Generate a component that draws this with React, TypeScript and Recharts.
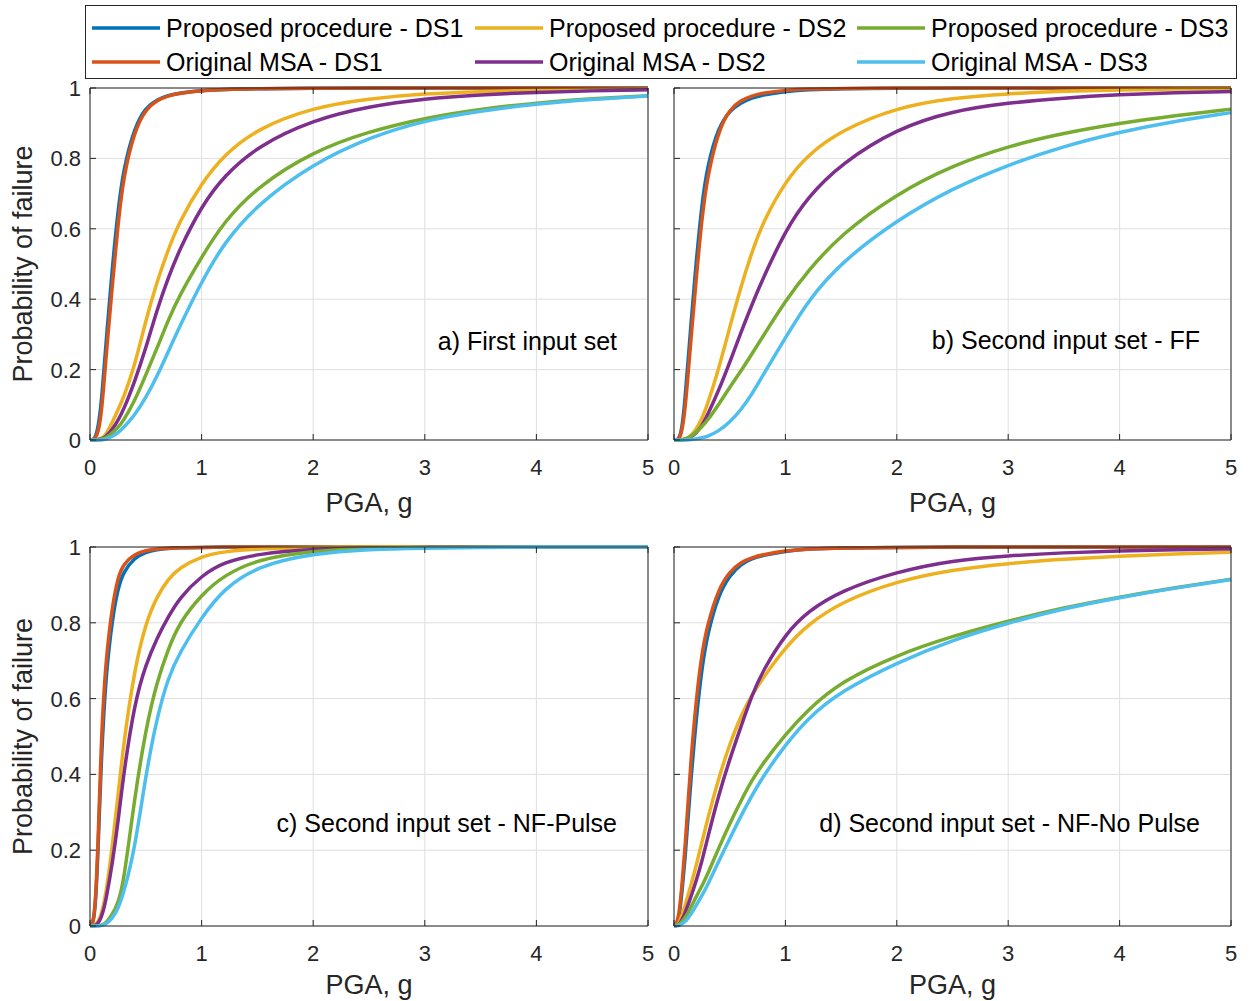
import React from 'react';
import { LineChart, Line, XAxis, YAxis, CartesianGrid } from 'recharts';

const FONT = "'Liberation Sans', Arial, Helvetica, sans-serif";
const AXIS = '#262626';
const GRID = '#dedede';

// PGA sample points (g)
const PGA = [0, 0.025, 0.05, 0.075, 0.1, 0.125, 0.15, 0.2, 0.25, 0.3, 0.4, 0.5, 0.6, 0.7, 0.8, 1.0, 1.2, 1.5, 2.0, 2.5, 3.0, 3.5, 4.0, 4.5, 5.0];

// a) First input set
const A_P1 = [0, 0, 0.008, 0.04, 0.1, 0.2, 0.3, 0.49, 0.65, 0.77, 0.89, 0.945, 0.967, 0.979, 0.986, 0.993, 0.996, 0.998, 0.999, 1, 1, 1, 1, 1, 1];
const A_O1 = [0, 0, 0.005, 0.025, 0.07, 0.16, 0.26, 0.44, 0.61, 0.75, 0.88, 0.94, 0.965, 0.978, 0.985, 0.993, 0.996, 0.998, 0.999, 1, 1, 1, 1, 1, 1];
const A_P2 = [0, 0, 0, 0.002, 0.005, 0.01, 0.02, 0.05, 0.085, 0.12, 0.21, 0.34, 0.45, 0.54, 0.62, 0.73, 0.81, 0.885, 0.945, 0.97, 0.984, 0.99, 0.994, 0.996, 0.998];
const A_O2 = [0, 0, 0, 0.001, 0.003, 0.006, 0.012, 0.03, 0.055, 0.085, 0.165, 0.26, 0.37, 0.46, 0.54, 0.665, 0.75, 0.835, 0.91, 0.948, 0.97, 0.981, 0.988, 0.992, 0.995];
const A_P3 = [0, 0, 0, 0, 0.002, 0.004, 0.008, 0.02, 0.035, 0.055, 0.11, 0.185, 0.26, 0.34, 0.41, 0.52, 0.62, 0.72, 0.82, 0.877, 0.915, 0.94, 0.958, 0.97, 0.978];
const A_O3 = [0, 0, 0, 0, 0, 0.001, 0.003, 0.01, 0.02, 0.035, 0.07, 0.12, 0.18, 0.25, 0.32, 0.45, 0.56, 0.67, 0.785, 0.86, 0.908, 0.935, 0.955, 0.968, 0.977];

// b) Second input set - FF
const B_P1 = [0, 0, 0.006, 0.04, 0.12, 0.22, 0.32, 0.51, 0.67, 0.78, 0.89, 0.935, 0.958, 0.972, 0.981, 0.99, 0.995, 0.998, 0.999, 1, 1, 1, 1, 1, 1];
const B_O1 = [0, 0, 0.005, 0.03, 0.09, 0.18, 0.28, 0.46, 0.63, 0.75, 0.88, 0.94, 0.965, 0.978, 0.986, 0.994, 0.997, 0.999, 1, 1, 1, 1, 1, 1, 1];
const B_P2 = [0, 0, 0, 0.001, 0.003, 0.006, 0.012, 0.03, 0.06, 0.1, 0.2, 0.32, 0.435, 0.535, 0.62, 0.735, 0.81, 0.88, 0.945, 0.972, 0.984, 0.991, 0.995, 0.997, 0.998];
const B_O2 = [0, 0, 0, 0, 0.002, 0.004, 0.008, 0.02, 0.04, 0.07, 0.14, 0.22, 0.305, 0.385, 0.46, 0.595, 0.69, 0.785, 0.885, 0.935, 0.958, 0.972, 0.981, 0.987, 0.99];
const B_P3 = [0, 0, 0, 0.001, 0.003, 0.006, 0.01, 0.022, 0.038, 0.055, 0.1, 0.15, 0.195, 0.245, 0.295, 0.395, 0.48, 0.585, 0.7, 0.78, 0.835, 0.872, 0.9, 0.922, 0.94];
const B_O3 = [0, 0, 0, 0, 0, 0, 0.001, 0.003, 0.006, 0.01, 0.025, 0.05, 0.085, 0.13, 0.185, 0.29, 0.395, 0.505, 0.625, 0.715, 0.782, 0.835, 0.875, 0.906, 0.93];

// c) Second input set - NF-Pulse
const C_P1 = [0, 0.003, 0.05, 0.22, 0.43, 0.57, 0.68, 0.81, 0.89, 0.935, 0.972, 0.987, 0.993, 0.996, 0.998, 0.999, 1, 1, 1, 1, 1, 1, 1, 1, 1];
const C_O1 = [0, 0.003, 0.06, 0.24, 0.48, 0.62, 0.72, 0.845, 0.92, 0.955, 0.982, 0.991, 0.995, 0.997, 0.998, 0.999, 1, 1, 1, 1, 1, 1, 1, 1, 1];
const C_P2 = [0, 0, 0.003, 0.012, 0.03, 0.06, 0.1, 0.21, 0.34, 0.48, 0.68, 0.8, 0.87, 0.915, 0.945, 0.976, 0.988, 0.995, 0.999, 1, 1, 1, 1, 1, 1];
const C_O2 = [0, 0, 0.002, 0.008, 0.022, 0.045, 0.08, 0.165, 0.27, 0.4, 0.59, 0.69, 0.76, 0.815, 0.865, 0.925, 0.96, 0.982, 0.995, 0.998, 0.999, 1, 1, 1, 1];
const C_P3 = [0, 0, 0, 0.001, 0.002, 0.005, 0.01, 0.03, 0.06, 0.11, 0.34, 0.52, 0.645, 0.73, 0.8, 0.875, 0.925, 0.968, 0.99, 0.997, 0.999, 1, 1, 1, 1];
const C_O3 = [0, 0, 0, 0, 0.001, 0.003, 0.007, 0.02, 0.045, 0.085, 0.2, 0.4, 0.55, 0.655, 0.72, 0.815, 0.89, 0.95, 0.983, 0.994, 0.997, 0.999, 1, 1, 1];

// d) Second input set - NF-No Pulse
const D_P1 = [0, 0.003, 0.03, 0.1, 0.18, 0.28, 0.38, 0.55, 0.68, 0.77, 0.875, 0.925, 0.955, 0.97, 0.978, 0.989, 0.995, 0.998, 0.999, 1, 1, 1, 1, 1, 1];
const D_O1 = [0, 0.005, 0.04, 0.12, 0.21, 0.32, 0.43, 0.6, 0.72, 0.795, 0.89, 0.935, 0.96, 0.972, 0.98, 0.99, 0.995, 0.998, 0.999, 1, 1, 1, 1, 1, 1];
const D_P2 = [0, 0.002, 0.01, 0.03, 0.055, 0.08, 0.105, 0.16, 0.22, 0.28, 0.39, 0.48, 0.555, 0.61, 0.655, 0.735, 0.795, 0.855, 0.91, 0.94, 0.957, 0.968, 0.976, 0.982, 0.986];
const D_O2 = [0, 0.001, 0.006, 0.018, 0.035, 0.055, 0.075, 0.12, 0.17, 0.23, 0.345, 0.44, 0.525, 0.61, 0.675, 0.77, 0.83, 0.885, 0.935, 0.965, 0.977, 0.985, 0.99, 0.993, 0.995];
const D_P3 = [0, 0.001, 0.005, 0.012, 0.022, 0.034, 0.048, 0.078, 0.105, 0.135, 0.205, 0.27, 0.33, 0.385, 0.43, 0.505, 0.57, 0.645, 0.715, 0.765, 0.805, 0.84, 0.868, 0.893, 0.915];
const D_O3 = [0, 0, 0.002, 0.006, 0.012, 0.02, 0.03, 0.055, 0.08, 0.107, 0.17, 0.23, 0.29, 0.345, 0.395, 0.478, 0.548, 0.62, 0.695, 0.755, 0.8, 0.838, 0.867, 0.892, 0.914];

const SERIES_NAMES = [
  'Proposed procedure - DS1',
  'Original MSA - DS1',
  'Proposed procedure - DS2',
  'Original MSA - DS2',
  'Proposed procedure - DS3',
  'Original MSA - DS3',
];
const SERIES_COLORS = ['#0072BD', '#D95319', '#EDB120', '#7E2F8E', '#77AC30', '#4DBEEE'];

const XTICKS = [0, 1, 2, 3, 4, 5];
const YTICKS = [0, 0.2, 0.4, 0.6, 0.8, 1];

const PANEL_LABELS = [
  'a) First input set',
  'b) Second input set - FF',
  'c) Second input set - NF-Pulse',
  'd) Second input set - NF-No Pulse',
];
const X_TITLE = 'PGA, g';
const Y_TITLE = 'Probability of failure';

// layout (plot rectangles)
const PANELS = [
  { left: 90, top: 88, w: 558, h: 352, series: [A_P1, A_O1, A_P2, A_O2, A_P3, A_O3], yTitle: true, labelY: 341, xTitleOff: 72 },
  { left: 674, top: 88, w: 557, h: 352, series: [B_P1, B_O1, B_P2, B_O2, B_P3, B_O3], yTitle: false, labelY: 340, xTitleOff: 72 },
  { left: 90, top: 547, w: 558, h: 379, series: [C_P1, C_O1, C_P2, C_O2, C_P3, C_O3], yTitle: true, labelY: 823, xTitleOff: 68 },
  { left: 674, top: 547, w: 557, h: 379, series: [D_P1, D_O1, D_P2, D_O2, D_P3, D_O3], yTitle: false, labelY: 823, xTitleOff: 68 },
];

const LEFT_W = 90;
const RIGHT_W = 20;
const TOP_H = 20;
const BOTTOM_H = 45;
const TICK_LEN = 6;

const fmt = (v: number) => String(Math.round(v * 10) / 10);

const BottomTick = (props: any) => {
  const { x, y, payload } = props;
  return (
    <g>
      <line x1={x} x2={x} y1={y} y2={y - TICK_LEN} stroke={AXIS} strokeWidth={1} />
      <text x={x} y={y + 35} textAnchor="middle" fontSize={22} fontFamily={FONT} fill={AXIS}>
        {fmt(payload.value)}
      </text>
    </g>
  );
};
const TopTick = (props: any) => {
  const { x, y } = props;
  return <line x1={x} x2={x} y1={y} y2={y + TICK_LEN} stroke={AXIS} strokeWidth={1} />;
};
const makeLeftTick = (showLabel: boolean) => (props: any) => {
  const { x, y, payload } = props;
  return (
    <g>
      <line x1={x} x2={x + TICK_LEN} y1={y} y2={y} stroke={AXIS} strokeWidth={1} />
      {showLabel && (
        <text x={x - 9} y={y + 8} textAnchor="end" fontSize={22} fontFamily={FONT} fill={AXIS}>
          {fmt(payload.value)}
        </text>
      )}
    </g>
  );
};
const LeftTickLabeled = makeLeftTick(true);
const LeftTickPlain = makeLeftTick(false);
const RightTick = (props: any) => {
  const { x, y } = props;
  return <line x1={x} x2={x - TICK_LEN} y1={y} y2={y} stroke={AXIS} strokeWidth={1} />;
};

function Panel({ left, top, w, h, series, yLabels }: { left: number; top: number; w: number; h: number; series: number[][]; yLabels: boolean }) {
  const data = PGA.map((x, i) => {
    const row: Record<string, number> = { x };
    series.forEach((s, k) => {
      row['s' + k] = s[i];
    });
    return row;
  });
  const LeftTick = yLabels ? LeftTickLabeled : LeftTickPlain;
  return (
    <div style={{ position: 'absolute', left: left - LEFT_W, top: top - TOP_H }}>
      <LineChart
        width={LEFT_W + w + RIGHT_W}
        height={TOP_H + h + BOTTOM_H}
        data={data}
        margin={{ top: 0, right: 0, bottom: 0, left: 0 }}
      >
        <CartesianGrid stroke={GRID} strokeWidth={1} />
        <XAxis
          dataKey="x"
          type="number"
          domain={[0, 5]}
          ticks={XTICKS}
          interval={0}
          height={BOTTOM_H}
          tickSize={0}
          tickMargin={0}
          tickLine={false}
          axisLine={{ stroke: AXIS, strokeWidth: 1 }}
          tick={<BottomTick />}
        />
        <XAxis
          xAxisId="top"
          orientation="top"
          dataKey="x"
          type="number"
          domain={[0, 5]}
          ticks={XTICKS}
          interval={0}
          height={TOP_H}
          tickSize={0}
          tickMargin={0}
          tickLine={false}
          axisLine={{ stroke: AXIS, strokeWidth: 1 }}
          tick={<TopTick />}
        />
        <YAxis
          type="number"
          domain={[0, 1]}
          ticks={YTICKS}
          interval={0}
          width={LEFT_W}
          tickSize={0}
          tickMargin={0}
          tickLine={false}
          axisLine={{ stroke: AXIS, strokeWidth: 1 }}
          tick={<LeftTick />}
        />
        <YAxis
          yAxisId="right"
          orientation="right"
          type="number"
          domain={[0, 1]}
          ticks={YTICKS}
          interval={0}
          width={RIGHT_W}
          tickSize={0}
          tickMargin={0}
          tickLine={false}
          axisLine={{ stroke: AXIS, strokeWidth: 1 }}
          tick={<RightTick />}
        />
        {series.map((_, k) => (
          <Line
            key={k}
            dataKey={'s' + k}
            name={SERIES_NAMES[k]}
            stroke={SERIES_COLORS[k]}
            strokeWidth={3.5}
            dot={false}
            type="basis"
            isAnimationActive={false}
          />
        ))}
      </LineChart>
    </div>
  );
}

function Overlay() {
  const colX = [92, 475, 857];
  const rowY = [28, 62];
  return (
    <svg width={1253} height={1001} style={{ position: 'absolute', left: 0, top: 0, pointerEvents: 'none' }}>
      {/* legend */}
      <rect x={85.5} y={5.5} width={1151} height={73} fill="#fff" stroke={AXIS} strokeWidth={1} />
      {colX.map((cx, c) =>
        rowY.map((ry, r) => {
          const k = c * 2 + r;
          return (
            <g key={k}>
              <line x1={cx} x2={cx + 68} y1={ry} y2={ry} stroke={SERIES_COLORS[k]} strokeWidth={3.5} />
              <text x={cx + 74} y={ry + 9} fontSize={25} fontFamily={FONT} fill="#000">
                {SERIES_NAMES[k]}
              </text>
            </g>
          );
        })
      )}
      {PANELS.map((p, i) => (
        <g key={i}>
          <text
            x={p.left + p.w - 31}
            y={p.labelY + 9}
            textAnchor="end"
            fontSize={25}
            fontFamily={FONT}
            fill="#000"
          >
            {PANEL_LABELS[i]}
          </text>
          <text
            x={p.left + p.w / 2}
            y={p.top + p.h + p.xTitleOff}
            textAnchor="middle"
            fontSize={27}
            fontFamily={FONT}
            fill={AXIS}
          >
            {X_TITLE}
          </text>
          {p.yTitle && (
            <text
              transform={`translate(32, ${p.top + p.h / 2}) rotate(-90)`}
              textAnchor="middle"
              fontSize={27}
              fontFamily={FONT}
              fill={AXIS}
            >
              {Y_TITLE}
            </text>
          )}
        </g>
      ))}
    </svg>
  );
}

export default function App() {
  return (
    <div style={{ position: 'absolute', left: 0, top: 0, width: 1253, height: 1001, background: '#fff', overflow: 'hidden' }}>
      {PANELS.map((p, i) => (
        <Panel key={i} left={p.left} top={p.top} w={p.w} h={p.h} series={p.series} yLabels={p.yTitle} />
      ))}
      <Overlay />
    </div>
  );
}
